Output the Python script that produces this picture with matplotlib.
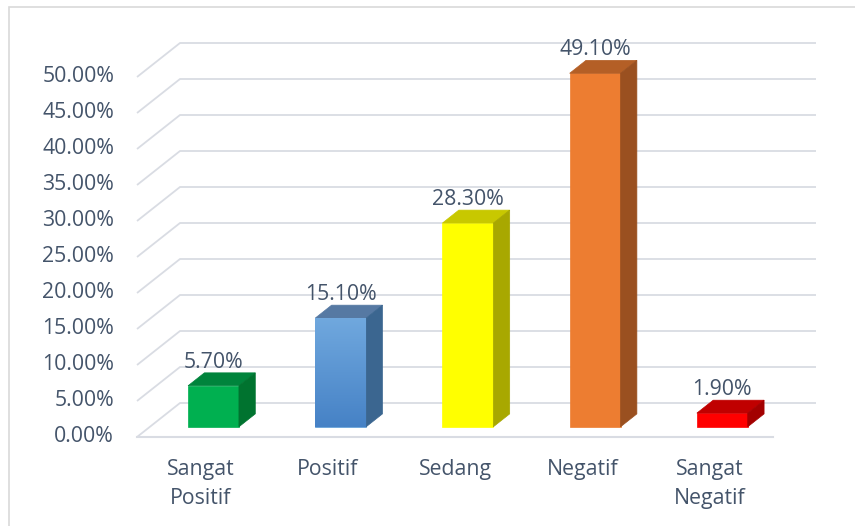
import matplotlib.pyplot as plt
import matplotlib.patches as mpatches
import numpy as np

categories = ["Sangat\nPositif", "Positif", "Sedang", "Negatif", "Sangat\nNegatif"]
values = [5.7, 15.1, 28.3, 49.1, 1.9]
labels = ["5.70%", "15.10%", "28.30%", "49.10%", "1.90%"]
yticks = [0, 5, 10, 15, 20, 25, 30, 35, 40, 45, 50]

front_col = ["#00B050", "#5B9BD5", "#FFFF00", "#ED7D31", "#FF0000"]
top_col = ["#00843C", "#5679A3", "#C8C800", "#B45F26", "#C00000"]
side_col = ["#00732F", "#3B6690", "#A8A800", "#9A5020", "#A30000"]

plt.rcParams['font.family'] = ['Open Sans', 'DejaVu Sans']
txt = "#44546A"
grid = "#D9DCE3"
fs = 15.3

fig = plt.figure(figsize=(8.55, 5.26), dpi=100)
ax = fig.add_axes([0, 0, 1, 1])
ax.axis("off")

# depth offset of the back wall in data units
ddx = 43 / 127.2
ddy = 34 / 7.2
f0, f1 = 0.30, 0.68  # bar front/back depth fraction
w = 0.40

# outer frame (only top/left visible)
ax.add_patch(mpatches.Rectangle((0.01, -0.05), 1.2, 1.037, transform=fig.transFigure,
                                fill=False, edgecolor="#D9D9D9", lw=1.2, clip_on=False))

# gridlines: front-left diagonal + back wall
for v in yticks:
    ax.plot([-0.5, -0.5 + ddx, 4.5 + ddx], [v, v + ddy, v + ddy], color=grid, lw=1.3,
            solid_capstyle="butt", zorder=1)
    ax.text(-0.5 - 0.18, v, f"{v:.2f}%", ha="right", va="center", fontsize=fs, color=txt)
ax.plot([-0.5, 4.5], [0, 0], color=grid, lw=1.5, zorder=1)

for i, v in enumerate(values):
    x0 = i - w / 2 + f0 * ddx
    y0 = f0 * ddy
    dx = (f1 - f0) * ddx
    dy = (f1 - f0) * ddy
    bars = ax.bar(x0, v, width=w, bottom=y0, align="edge", color=front_col[i], zorder=3,
                  edgecolor=front_col[i], lw=0.5)
    if i == 1:
        # blue bar has a light-to-dark vertical gradient
        grad = np.linspace(1, 0, 100).reshape(-1, 1)
        cm = plt.matplotlib.colors.LinearSegmentedColormap.from_list("b", ["#4682C6", "#70A8DE"])
        im = ax.imshow(grad, cmap=cm, extent=(x0, x0 + w, y0, y0 + v), aspect="auto",
                       origin="upper", zorder=3.1)
        im.set_clip_path(bars[0])
    top = [(x0, y0 + v), (x0 + w, y0 + v), (x0 + w + dx, y0 + v + dy), (x0 + dx, y0 + v + dy)]
    side = [(x0 + w, y0), (x0 + w + dx, y0 + dy), (x0 + w + dx, y0 + v + dy), (x0 + w, y0 + v)]
    ax.add_patch(mpatches.Polygon(top, closed=True, facecolor=top_col[i], edgecolor=top_col[i],
                                  lw=0.5, zorder=3))
    ax.add_patch(mpatches.Polygon(side, closed=True, facecolor=side_col[i], edgecolor=side_col[i],
                                  lw=0.5, zorder=3))
    ax.text(i + f0 * ddx, y0 + v + dy + 0.7, labels[i], ha="center", va="baseline",
            fontsize=fs, color=txt, zorder=4)
    ax.text(i + f0 * ddx - 0.1, -3.0, categories[i], ha="center", va="top",
            fontsize=fs, color=txt, linespacing=1.55)

# pixel layout: category unit = 127.2 px, 1% = 7.2 px
ax.set_xlim(-0.5 - 137 / 127.2, 4.5 + 82 / 127.2)
ax.set_ylim(-89 / 7.2, 437 / 7.2)
fig.savefig("out.png", dpi=100)
